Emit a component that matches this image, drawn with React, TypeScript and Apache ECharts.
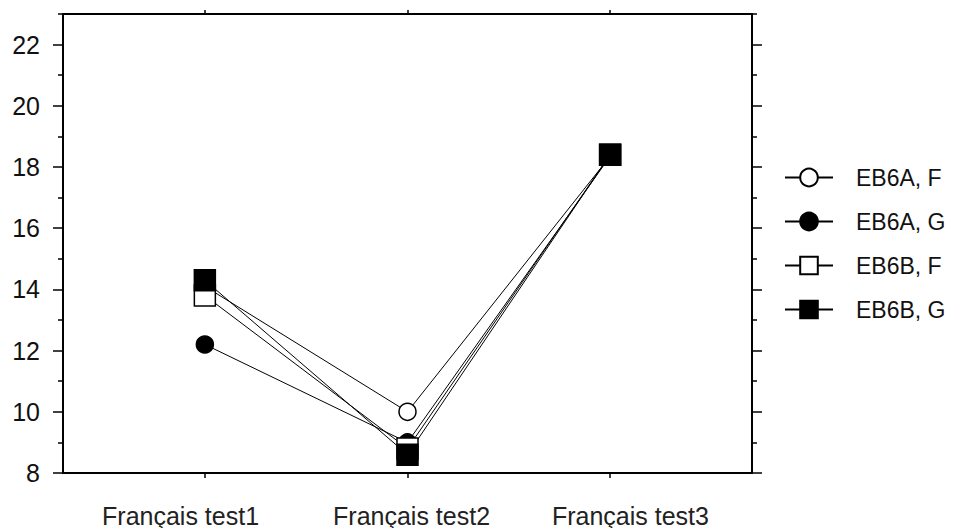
import React, { useEffect, useRef } from "react";
import * as echarts from "echarts";

const categories = ["Français test1", "Français test2", "Français test3"];
const categoryLabelPositions = [0.88, 2.02, 3.1];
const seriesNames = ["EB6A, F", "EB6A, G", "EB6B, F", "EB6B, G"];
const eb6aF = [14.1, 10.0, 18.35];
const eb6aG = [12.2, 9.0, 18.35];
const eb6bF = [13.8, 8.8, 18.4];
const eb6bG = [14.3, 8.6, 18.4];
const majorTicks = [8, 10, 12, 14, 16, 18, 20, 22];
const minorTicks = [9, 11, 13, 15, 17, 19, 21, 23];

const FONT = "Liberation Sans, Arial, sans-serif";

export default function App() {
  const ref = useRef<HTMLDivElement>(null);
  useEffect(() => {
    if (!ref.current) return;
    const chart = echarts.init(ref.current, null, { renderer: "svg" });
    const toPts = (vals: number[]) => vals.map((v, i) => [i + 1, v]);
    const yBase = {
      type: "value",
      min: 8,
      max: 23,
      splitLine: { show: false },
    };
    const axisLine = { show: true, lineStyle: { color: "#000", width: 2 } };
    const mk = (
      name: string,
      vals: number[],
      symbol: string,
      size: number,
      filled: boolean
    ) => ({
      name,
      type: "line",
      data: toPts(vals),
      symbol,
      symbolSize: size,
      showSymbol: true,
      lineStyle: { color: "#000", width: 1 },
      itemStyle: {
        color: filled ? "#000" : "#fff",
        borderColor: "#000",
        borderWidth: 1.5,
      },
      emphasis: { disabled: true },
    });
    chart.setOption({
      animation: false,
      backgroundColor: "#fff",
      textStyle: { fontFamily: FONT },
      grid: { left: 63, right: 201, top: 14, bottom: 55 },
      legend: {
        left: 784,
        top: 166,
        padding: 0,
        orient: "vertical",
        itemWidth: 48,
        itemHeight: 22,
        itemGap: 21,
        data: seriesNames,
        textStyle: {
          fontFamily: FONT,
          fontSize: 23,
          color: "#111",
          padding: [0, 0, 0, 18],
        },
      },
      xAxis: [
        {
          type: "value",
          min: 0.3,
          max: 3.7,
          position: "bottom",
          splitLine: { show: false },
          axisLine,
          axisTick: {
            show: true,
            length: 5,
            lineStyle: { color: "#000", width: 1.5 },
            customValues: [1, 2, 3],
          },
          axisLabel: {
            customValues: categoryLabelPositions,
            formatter: (v: number) => categories[Math.round(v) - 1] ?? "",
            fontFamily: FONT,
            fontSize: 25,
            color: "#222",
            margin: 30,
          },
        },
        {
          type: "value",
          min: 0.3,
          max: 3.7,
          position: "top",
          splitLine: { show: false },
          axisLine,
          axisTick: {
            show: true,
            length: 4,
            lineStyle: { color: "#000", width: 1.5 },
            customValues: [1, 2, 3],
          },
          axisLabel: { show: false },
        },
      ],
      yAxis: [
        {
          ...yBase,
          position: "left",
          axisLine,
          axisTick: {
            show: true,
            length: 10,
            lineStyle: { color: "#000", width: 1.5 },
            customValues: majorTicks,
          },
          axisLabel: {
            customValues: majorTicks,
            fontFamily: FONT,
            fontSize: 25,
            color: "#111",
            margin: 23,
          },
        },
        {
          ...yBase,
          position: "left",
          axisLine: { show: false },
          axisTick: {
            show: true,
            length: 5,
            lineStyle: { color: "#000", width: 1.5 },
            customValues: minorTicks,
          },
          axisLabel: { show: false },
        },
        {
          ...yBase,
          position: "right",
          axisLine,
          axisTick: {
            show: true,
            length: 10,
            lineStyle: { color: "#000", width: 1.5 },
            customValues: majorTicks,
          },
          axisLabel: { show: false },
        },
        {
          ...yBase,
          position: "right",
          axisLine: { show: false },
          axisTick: {
            show: true,
            length: 5,
            lineStyle: { color: "#000", width: 1.5 },
            customValues: minorTicks,
          },
          axisLabel: { show: false },
        },
      ],
      series: [
        mk(seriesNames[0], eb6aF, "circle", 17, false),
        mk(seriesNames[1], eb6aG, "circle", 17, true),
        mk(seriesNames[2], eb6bF, "rect", 21, false),
        mk(seriesNames[3], eb6bG, "rect", 21, true),
      ],
    });
    return () => chart.dispose();
  }, []);
  return <div ref={ref} style={{ width: 953, height: 528, position: "absolute", left: 0, top: 0 }} />;
}
